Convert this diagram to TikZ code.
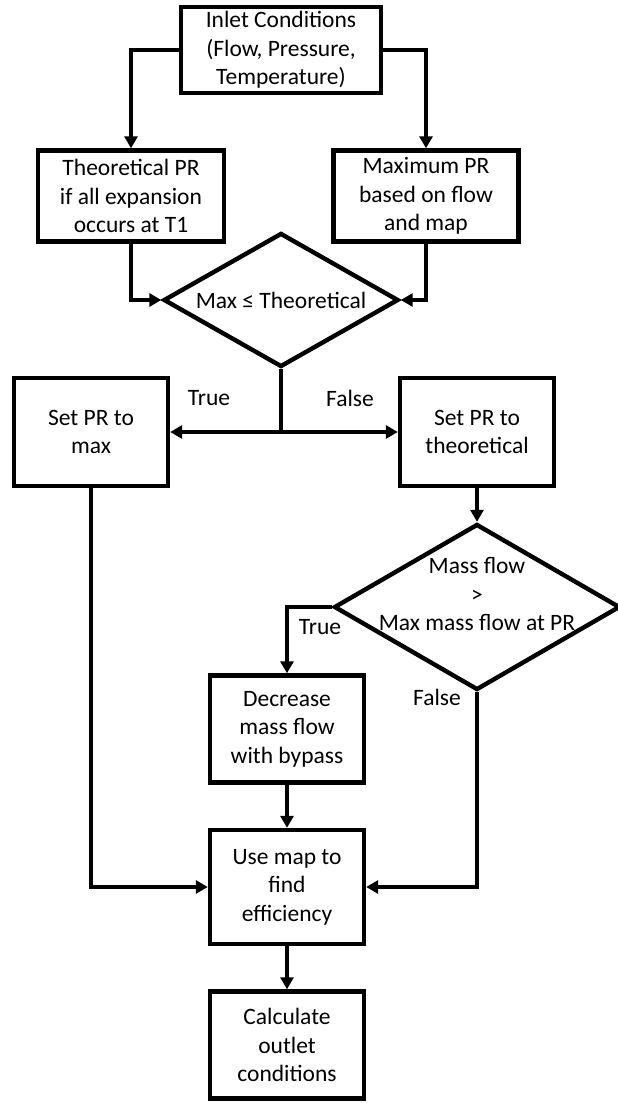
\documentclass[tikz,border=0pt]{standalone}
\usepackage{fontspec}
\setmainfont{Carlito}
\usetikzlibrary{shapes.geometric,arrows.meta}

\begin{document}
\begin{tikzpicture}[x=1pt, y=-1pt,
  every node/.style={font=\fontsize{23.5}{28.5}\selectfont, align=center},
  stepbox/.style={draw, line width=4.4pt, minimum width=154pt, minimum height=107pt, inner sep=2pt},
  test/.style={draw, diamond, line width=4.4pt, inner sep=0pt, aspect=1.75},
  flow/.style={line width=4.4pt, -{Triangle[length=12pt,width=13pt]}},
  link/.style={line width=4.4pt}]
  \useasboundingbox (0,0) rectangle (618,1103);
  % boxes
  \node[stepbox, minimum width=200pt, minimum height=86pt] (inlet) at (281,50) {Inlet Conditions\\(Flow, Pressure,\\Temperature)};
  \node[stepbox, minimum width=186pt, minimum height=91pt] (theo) at (131,196) {Theoretical PR\\if all expansion\\occurs at T1};
  \node[stepbox, minimum width=185pt, minimum height=91pt] (maxpr) at (426,196) {Maximum PR\\based on flow\\and map};
  \node[test, minimum width=235pt, minimum height=134pt] (cmp) at (281,300) {Max ≤ Theoretical};
  \node[stepbox, minimum height=108pt] (setmax) at (91,432) {Set PR to\\max};
  \node[stepbox, minimum height=108pt] (settheo) at (477,432) {Set PR to\\theoretical};
  \node[test, minimum width=286pt, minimum height=166pt] (mass) at (477,607) {};
  \node (masstxt) at (477,594) {Mass flow\\>\\Max mass flow at PR};
  \node[stepbox] (bypass) at (287,729) {Decrease\\mass flow\\with bypass};
  \node[stepbox, minimum height=114pt] (usemap) at (287,887) {Use map to\\find\\efficiency};
  \node[stepbox] (outlet) at (287,1045) {Calculate\\outlet\\conditions};
  % branch labels
  \node (t1) at (209,398) {True};
  \node (f1) at (350,398) {False};
  \node (t2) at (320,627) {True};
  \node (f2) at (437,697) {False};
  % connectors
  \draw[flow] (inlet.west) -| (theo.north);
  \draw[flow] (inlet.east) -| (maxpr.north);
  \draw[flow] (theo.south) |- (cmp.west);
  \draw[flow] (maxpr.south) |- (cmp.east);
  \coordinate (split) at (cmp.south |- setmax.east);
  \draw[link] (cmp.south) -- (split);
  \draw[flow] (split) -- (setmax.east);
  \draw[flow] (split) -- (settheo.west);
  \draw[flow] (settheo.south) -- (mass.north);
  \draw[flow] (mass.west) -| (bypass.north);
  \draw[flow] (bypass.south) -- (usemap.north);
  \draw[flow] (mass.south) |- (usemap.east);
  \draw[flow] (setmax.south) |- (usemap.west);
  \draw[flow] (usemap.south) -- (outlet.north);
\end{tikzpicture}
\end{document}
